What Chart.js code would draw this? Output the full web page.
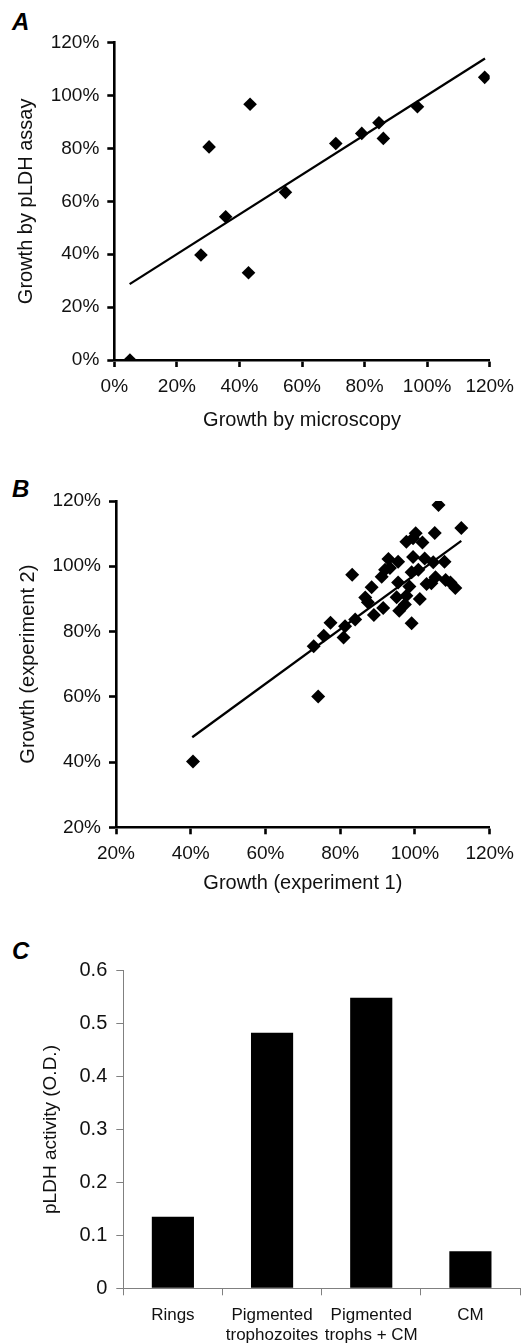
<!DOCTYPE html>
<html>
<head>
<meta charset="utf-8">
<script src="https://cdn.jsdelivr.net/npm/chart.js@4.4.1/dist/chart.umd.min.js"></script>
<style>
  html, body { margin: 0; padding: 0; background: #fff; }
  body { width: 522px; height: 1343px; position: relative; overflow: hidden; font-family: "Liberation Sans", Arial, Helvetica, sans-serif; }
  canvas { position: absolute; left: 0; }
  .lbl { position: absolute; left: 12px; font: italic bold 24px "Liberation Sans", Arial, sans-serif; line-height: 1; color: #000; }
</style>
</head>
<body>
<div class="lbl" style="top:10px">A</div>
<div class="lbl" style="top:477px">B</div>
<div class="lbl" style="top:939px">C</div>
<canvas id="cA" width="522" height="440" style="top:0px"></canvas>
<canvas id="cB" width="522" height="470" style="top:440px"></canvas>
<canvas id="cC" width="522" height="433" style="top:910px"></canvas>
<script>
// ---------- Panel A data (percent) ----------
const aMicroscopy = [5, 27.7, 30.3, 35.6, 42.9, 43.4, 54.7, 70.8, 79.1, 84.6, 86.0, 96.9, 118.4];
const aPLDH       = [0, 39.7, 80.6, 54.2, 33.0, 96.7, 63.4, 81.9, 85.7, 89.7, 83.8, 95.8, 106.9];
const aTrendX = [4.9, 118.5];
const aTrendY = [28.7, 114.0];
const aTicks = [0, 20, 40, 60, 80, 100, 120];

// ---------- Panel B data (percent) ----------
const bExp1 = [40.6, 74.1, 72.9, 75.6, 77.4, 80.9, 81.3, 84.0, 83.2, 86.7, 87.4, 88.4, 89.0, 91.5, 91.1, 92.0, 92.9, 95.5, 95.5, 95.1, 95.8, 97.3, 97.7, 97.7, 99.1, 99.1, 99.5, 99.5, 100.2, 100.9, 101.3, 102.0, 102.6, 103.1, 104.4, 104.9, 105.3, 105.5, 106.3, 107.9, 108.2, 109.5, 110.8, 112.4, 98.5, 93.3];
const bExp2 = [40.2, 60.1, 75.5, 78.7, 82.7, 78.2, 81.6, 83.7, 97.4, 90.4, 89.0, 93.6, 85.1, 87.2, 96.8, 98.9, 102.2, 101.4, 95.0, 90.5, 86.4, 88.3, 91.0, 107.5, 82.5, 98.2, 102.8, 108.6, 110.1, 98.9, 90.0, 107.3, 102.4, 94.6, 94.8, 101.2, 110.2, 96.6, 118.8, 101.4, 95.8, 95.0, 93.3, 111.7, 93.8, 99.5];
const bTrendX = [40.4, 112.4];
const bTrendY = [47.6, 107.8];
const bTicks = [20, 40, 60, 80, 100, 120];

// ---------- Panel C data ----------
const cCategories = ["Rings", ["Pigmented", "trophozoites"], ["Pigmented", "trophs + CM"], "CM"];
const cActivity = [0.135, 0.483, 0.549, 0.070];
const cTicks = [0, 0.1, 0.2, 0.3, 0.4, 0.5, 0.6];

const FONT = '"Liberation Sans", Arial, Helvetica, sans-serif';
const pts = (xs, ys) => xs.map((x, i) => ({x: x, y: ys[i]}));

function fixedSize(w, h) {
  return function (scale) {
    if (w !== null) scale.width = w;
    if (h !== null) scale.height = h;
  };
}

function scatterAxes(ticks, yWidth, xHeight, yTitle, xTitle, yTitlePad, xTitlePad) {
  const tickOpts = () => ({
    color: '#111',
    font: {family: FONT, size: 19},
    padding: 8,
    autoSkip: false,
    maxRotation: 0,
    callback: (v) => v + '%'
  });
  const afterBuild = (vals) => function (scale) { scale.ticks = vals.map(v => ({value: v})); };
  const gridOpts = {display: true, drawOnChartArea: false, drawTicks: true, tickLength: 7, tickWidth: 2.6, tickColor: '#000'};
  return {
    x: {
      type: 'linear', position: 'bottom',
      min: ticks[0], max: ticks[ticks.length - 1],
      afterBuildTicks: afterBuild(ticks),
      afterFit: fixedSize(null, xHeight),
      grid: gridOpts,
      border: {display: true, color: '#000', width: 2.6},
      ticks: tickOpts(),
      title: {display: true, text: xTitle, color: '#111', font: {family: FONT, size: 20}, padding: {top: 0, bottom: xTitlePad}}
    },
    y: {
      type: 'linear', position: 'left',
      min: ticks[0], max: ticks[ticks.length - 1],
      afterBuildTicks: afterBuild(ticks),
      afterFit: fixedSize(yWidth, null),
      grid: gridOpts,
      border: {display: true, color: '#000', width: 2.6},
      ticks: tickOpts(),
      title: {display: true, text: yTitle, color: '#111', font: {family: FONT, size: 20}, padding: {top: yTitlePad, bottom: 0}}
    }
  };
}

const common = {
  responsive: false,
  animation: false,
  devicePixelRatio: 1,
  plugins: {legend: {display: false}, tooltip: {enabled: false}}
};

// ---------- Chart A ----------
new Chart(document.getElementById('cA'), {
  type: 'scatter',
  data: {
    datasets: [
      {type: 'scatter', data: pts(aMicroscopy, aPLDH), pointStyle: 'rectRot', pointRadius: 6.8, backgroundColor: '#000', borderColor: '#000', borderWidth: 0},
      {type: 'line', data: pts(aTrendX, aTrendY), borderColor: '#000', borderWidth: 2.3, pointRadius: 0, fill: false, tension: 0}
    ]
  },
  options: Object.assign({}, common, {
    layout: {padding: {top: 42.7, right: 26.3, bottom: 0, left: 0}},
    scales: scatterAxes(aTicks, 114.3, 80, 'Growth by pLDH assay', 'Growth by microscopy', 14.5, 8)
  })
});

// ---------- Chart B ----------
new Chart(document.getElementById('cB'), {
  type: 'scatter',
  data: {
    datasets: [
      {type: 'scatter', data: pts(bExp1, bExp2), pointStyle: 'rectRot', pointRadius: 7, backgroundColor: '#000', borderColor: '#000', borderWidth: 0},
      {type: 'line', data: pts(bTrendX, bTrendY), borderColor: '#000', borderWidth: 2.3, pointRadius: 0, fill: false, tension: 0}
    ]
  },
  options: Object.assign({}, common, {
    layout: {padding: {top: 61, right: 29.7, bottom: 0, left: 0}},
    scales: scatterAxes(bTicks, 116, 82.7, 'Growth (experiment 2)', 'Growth (experiment 1)', 16, 15)
  })
});

// ---------- Chart C ----------
new Chart(document.getElementById('cC'), {
  type: 'bar',
  data: {
    labels: cCategories,
    datasets: [{data: cActivity, backgroundColor: '#000', borderColor: '#000', borderWidth: 0, categoryPercentage: 1, barPercentage: 0.425}]
  },
  options: Object.assign({}, common, {
    layout: {padding: {top: 60.7, right: 2, bottom: 0, left: 0}},
    scales: {
      x: {
        type: 'category', position: 'bottom', offset: true,
        afterFit: fixedSize(null, 54.7),
        grid: {display: true, offset: true, drawOnChartArea: false, drawTicks: true, tickLength: 7, tickWidth: 1, tickColor: '#808080'},
        border: {display: true, color: '#808080', width: 1},
        ticks: {color: '#111', font: {family: FONT, size: 17}, padding: 9.5, autoSkip: false, maxRotation: 0}
      },
      y: {
        type: 'linear', position: 'left',
        min: 0, max: 0.6,
        afterBuildTicks: function (scale) { scale.ticks = cTicks.map(v => ({value: v})); },
        afterFit: fixedSize(123.3, null),
        grid: {display: true, drawOnChartArea: false, drawTicks: true, tickLength: 7, tickWidth: 1, tickColor: '#808080'},
        border: {display: true, color: '#808080', width: 1},
        ticks: {color: '#111', font: {family: FONT, size: 20}, padding: 9, callback: (v) => (v === 0 ? '0' : Number(v).toFixed(1))},
        title: {display: true, text: 'pLDH activity (O.D.)', color: '#111', font: {family: FONT, size: 19}, padding: {top: 39, bottom: 0}}
      }
    }
  })
});
</script>
</body>
</html>
